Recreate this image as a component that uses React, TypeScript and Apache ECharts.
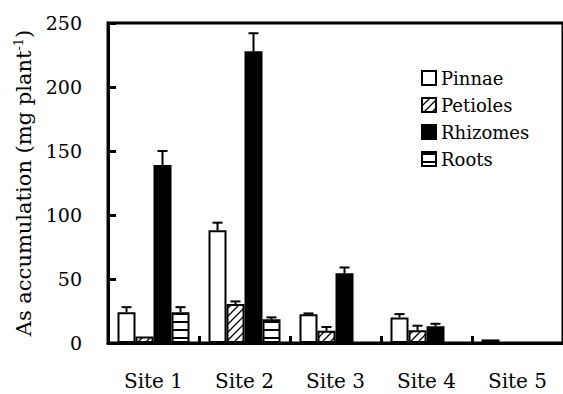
import React, { useEffect, useRef } from "react";
import * as echarts from "echarts";

const categories = ["Site 1", "Site 2", "Site 3", "Site 4", "Site 5"];
const seriesNames = ["Pinnae", "Petioles", "Rhizomes", "Roots"];
const pinnae = [24, 88, 22.5, 20, 2.8];
const petioles = [5, 30.5, 9.5, 10, 0];
const rhizomes = [139, 228, 54.5, 13, 0];
const roots = [24, 18.5, 0, 0, 0];
const pinnaeErr = [4, 6, 0.6, 2.6, 0];
const petiolesErr = [0, 2, 3, 3.5, 0];
const rhizomesErr = [11, 14, 4.5, 2, 0];
const rootsErr = [4, 1.5, 0, 0, 0];
const yTicks = [0, 50, 100, 150, 200, 250];

const FONT = "DejaVu Serif";

function makePattern(kind: string) {
  const c = document.createElement("canvas");
  const s = 8;
  c.width = s;
  c.height = s;
  const ctx = c.getContext("2d")!;
  ctx.fillStyle = "#fff";
  ctx.fillRect(0, 0, s, s);
  ctx.strokeStyle = "#000";
  ctx.lineWidth = 1.3;
  if (kind === "diag") {
    ctx.beginPath();
    ctx.moveTo(0, s);
    ctx.lineTo(s, 0);
    ctx.moveTo(-s / 2, s / 2);
    ctx.lineTo(s / 2, -s / 2);
    ctx.moveTo(s / 2, s + s / 2);
    ctx.lineTo(s + s / 2, s / 2);
    ctx.stroke();
  } else {
    ctx.lineWidth = 2;
    ctx.beginPath();
    ctx.moveTo(0, 2);
    ctx.lineTo(s, 2);
    ctx.stroke();
  }
  return { image: c, repeat: "repeat" } as any;
}

export default function App() {
  const ref = useRef<HTMLDivElement>(null);
  useEffect(() => {
    document.body.style.margin = "0";
    const chart = echarts.init(ref.current!, null, { renderer: "svg" });
    const values = [pinnae, petioles, rhizomes, roots];
    const errs = [pinnaeErr, petiolesErr, rhizomesErr, rootsErr];
    const fills = ["#fff", makePattern("diag"), "#000", makePattern("horiz")];
    const barWidth = 18;

    const barSeries = seriesNames.map((name, i) => ({
      name,
      type: "bar",
      data: values[i],
      barWidth,
      barGap: "0%",
      itemStyle: { color: fills[i], borderColor: "#000", borderWidth: 2 },
      z: 2,
    }));

    const errData: number[][] = [];
    values.forEach((vals, si) =>
      vals.forEach((v, ci) => {
        if (errs[si][ci] > 0) errData.push([ci, v, v + errs[si][ci], si]);
      })
    );

    const errSeries = {
      type: "custom",
      name: "err",
      z: 3,
      data: errData,
      renderItem: (params: any, api: any) => {
        const ci = api.value(0);
        const si = api.value(3);
        const base = api.coord([ci, api.value(1)]);
        const top = api.coord([ci, api.value(2)]);
        const x = base[0] + (si - 1.5) * barWidth;
        const cap = 5;
        return {
          type: "group",
          children: [
            { type: "line", shape: { x1: x, y1: base[1], x2: x, y2: top[1] }, style: { stroke: "#000", lineWidth: 2 } },
            { type: "line", shape: { x1: x - cap, y1: top[1], x2: x + cap, y2: top[1] }, style: { stroke: "#000", lineWidth: 2 } },
          ],
        };
      },
    };

    chart.setOption({
      animation: false,
      textStyle: { fontFamily: FONT },
      grid: {
        left: 108,
        top: 23,
        bottom: 51,
        right: -12,
        show: true,
        borderColor: "#000",
        borderWidth: 3,
      },
      legend: {
        data: seriesNames,
        orient: "vertical",
        left: 416,
        top: 64,
        itemWidth: 14,
        itemHeight: 14,
        itemGap: 9,
        textStyle: { fontFamily: FONT, fontSize: 18, color: "#000" },
        icon: "rect",
      },
      xAxis: {
        type: "category",
        data: categories,
        axisLine: { lineStyle: { color: "#000", width: 3 } },
        axisTick: { show: true, inside: true, length: 7, lineStyle: { color: "#000", width: 3 } },
        axisLabel: { color: "#000", fontFamily: FONT, fontSize: 20, margin: 28 },
      },
      yAxis: {
        type: "value",
        min: yTicks[0],
        max: yTicks[yTicks.length - 1],
        interval: 50,
        name: "As accumulation (mg plant{sup|-1})",
        nameLocation: "middle",
        nameGap: 62,
        nameTextStyle: {
          fontFamily: FONT,
          fontSize: 21,
          color: "#000",
          rich: { sup: { fontFamily: FONT, fontSize: 13, color: "#000", verticalAlign: "top", padding: [0, 0, 12, 0] } },
        },
        axisLine: { show: true, lineStyle: { color: "#000", width: 3 } },
        axisTick: { show: true, inside: true, length: 8, lineStyle: { color: "#000", width: 3 } },
        axisLabel: { color: "#000", fontFamily: FONT, fontSize: 19, margin: 26 },
        splitLine: { show: false },
      },
      series: [...barSeries, errSeries],
    });
    return () => chart.dispose();
  }, []);
  return <div ref={ref} style={{ width: 563, height: 394 }} />;
}
